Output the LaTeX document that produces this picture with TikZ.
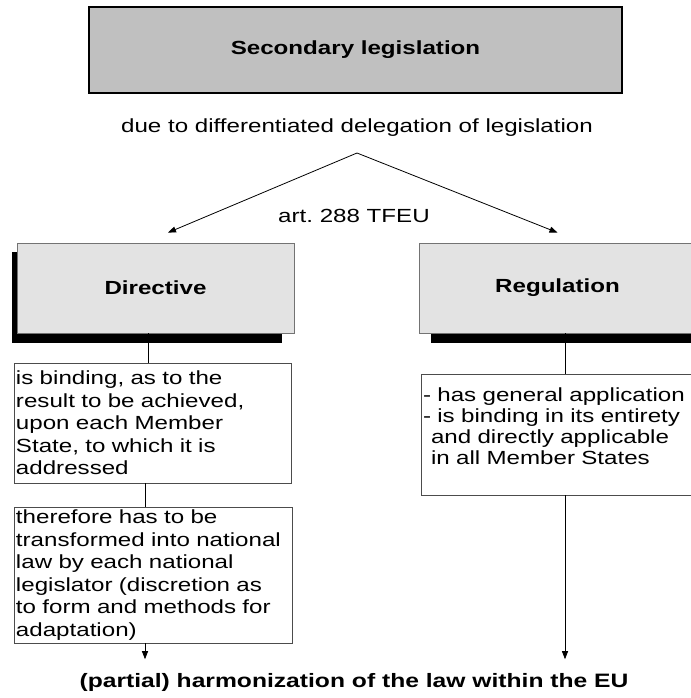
\documentclass[tikz,border=0pt]{standalone}
\usepackage{fontspec}
\setmainfont{Liberation Sans}[FakeStretch=1.27]
\usetikzlibrary{positioning}
\usetikzlibrary{calc}
\usetikzlibrary{arrows.meta}
\usetikzlibrary{backgrounds}

\definecolor{headgray}{HTML}{C0C0C0}
\definecolor{kindgray}{HTML}{E3E3E3}
\frenchspacing

\begin{document}
\begin{tikzpicture}[x=1pt,y=-1pt,>={Triangle[length=8pt,width=6pt]},
  line width=0.8pt,font=\fontsize{19}{22.5}\selectfont,
  head node/.style={rectangle,draw=black,line width=2pt,fill=headgray,
  minimum width=533pt,minimum height=86pt,font=\fontsize{19}{22.5}\selectfont\bfseries},
  kind node/.style={rectangle,draw=black!55,fill=kindgray,
  minimum width=277pt,minimum height=90pt,font=\fontsize{19}{22.5}\selectfont\bfseries},
  rule node/.style={rectangle,draw=black!70,fill=white,align=left,
  inner xsep=2pt,inner ysep=1pt}]
  \useasboundingbox (0,0) rectangle (690,698);

  \node[head node] (sec) at (355.5,50) {Secondary legislation};
  \node (due) at (357,128) {due to differentiated delegation of legislation};
  \coordinate (split) at (357,153);
  \node (art) at (354,216) {art. 288 TFEU};

  \node[kind node] (dir) at (155.5,288) {Directive};
  \node[kind node] (reg) at (557.5,288) {Regulation};

  \node[rule node,text width=273pt,minimum height=120pt] (bind) at (152.5,423)
    {is binding, as to the\\ result to be achieved,\\ upon each Member\\
     State, to which it is\\ addressed};
  \node[rule node,text width=274pt,minimum height=136pt] (trans) at (153,575)
    {therefore has to be\\ transformed into national\\ law by each national\\
     legislator (discretion as\\ to form and methods for\\ adaptation)};
  \node[rule node,text width=273pt,minimum height=121pt,
    font=\fontsize{19}{21}\selectfont] (gen) at (559.5,434.5)
    {- has general application\\ - is binding in its entirety\\
     \hspace*{8pt}and directly applicable\\ \hspace*{8pt}in all Member States\par\kern16pt};

  \node[font=\fontsize{19.4}{22.5}\selectfont\bfseries] (harm) at (354,682)
    {(partial) harmonization of the law within the EU};

  % black shadows behind the two kinds of act
  \begin{scope}[on background layer]
    \fill ($(dir.north west)+(-5,9)$) rectangle ($(dir.south east)+(-12,10)$);
    \fill ($(reg.north west)+(12,9)$) rectangle ($(reg.south east)+(12,10)$);
  \end{scope}

  \draw[<->] ($(dir.north)+(12.5,-10)$) -- (split) -- ($(reg.north)+(0,-10)$);

  \coordinate (b1) at ($(bind.north)+(-4.5,0)$);
  \coordinate (b2) at ($(trans.north)+(-8,0)$);
  \coordinate (b3) at ($(trans.south)+(-8,0)$);
  \coordinate (r1) at ($(gen.north)+(5.5,0)$);
  \coordinate (r2) at ($(gen.south)+(5.5,0)$);
  \draw (b1) -- (b1 |- dir.south);
  \draw (b2) -- (b2 |- bind.south);
  \draw[->,shorten >=10pt] (b3) -- (b3 |- harm.north);
  \draw (r1) -- (r1 |- reg.south);
  \draw[->,shorten >=10pt] (r2) -- (r2 |- harm.north);
\end{tikzpicture}
\end{document}
